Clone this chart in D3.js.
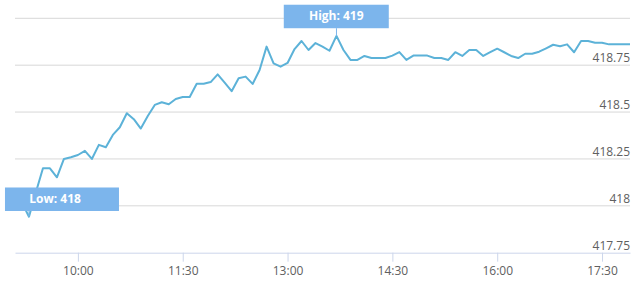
<!DOCTYPE html>
<html>
<head>
<meta charset="utf-8">
<script src="https://cdn.jsdelivr.net/npm/d3@7"></script>
<style>
  body { margin: 0; background: #fff; }
  svg { display: block; font-family: "Open Sans", sans-serif; }
</style>
</head>
<body>
<svg width="640" height="283"></svg>
<script>
// price every 6 minutes, starting 09:06
var startTime = "09:06";
var stepMinutes = 6;
var prices = [
  418.031, 418.017, 417.942, 418.074, 418.200, 418.200, 418.152, 418.250, 418.259, 418.271,
  418.293, 418.250, 418.325, 418.312, 418.378, 418.419, 418.494, 418.462, 418.412, 418.479,
  418.538, 418.552, 418.542, 418.570, 418.580, 418.580, 418.651, 418.651, 418.660, 418.701,
  418.657, 418.611, 418.680, 418.689, 418.650, 418.724, 418.849, 418.760, 418.742, 418.762,
  418.836, 418.879, 418.831, 418.868, 418.849, 418.827, 418.906, 418.831, 418.778, 418.778,
  418.799, 418.788, 418.788, 418.788, 418.801, 418.820, 418.778, 418.801, 418.801, 418.801,
  418.788, 418.788, 418.778, 418.819, 418.799, 418.831, 418.831, 418.799, 418.819, 418.838,
  418.819, 418.799, 418.788, 418.811, 418.811, 418.822, 418.840, 418.859, 418.851, 418.861,
  418.819, 418.879, 418.879, 418.870, 418.870, 418.861, 418.861, 418.861, 418.861
];
var xTickLabels = ["10:00", "11:30", "13:00", "14:30", "16:00", "17:30"];
var yTicks = [417.75, 418, 418.25, 418.5, 418.75, 419];
var yLabelTicks = [417.75, 418, 418.25, 418.5, 418.75];

var parseTime = d3.timeParse("%H:%M");
var t0 = parseTime(startTime);
var data = prices.map(function(v, i) {
  return { time: d3.timeMinute.offset(t0, i * stepMinutes), value: v };
});

var svg = d3.select("svg");
var plotLeft = 15, plotRight = 630, plotTop = 18.3, plotBottom = 252.7;

var x = d3.scaleTime()
  .domain(d3.extent(data, function(d) { return d.time; }))
  .range([plotLeft, plotRight]);
var y = d3.scaleLinear().domain([417.75, 419]).range([plotBottom, plotTop]);

// grid lines
svg.append("g").selectAll("line")
  .data(yTicks.filter(function(t) { return t !== 417.75; }))
  .enter().append("line")
  .attr("x1", plotLeft).attr("x2", plotRight)
  .attr("y1", function(d) { return y(d); })
  .attr("y2", function(d) { return y(d); })
  .attr("stroke", "#d8d8d8")
  .attr("stroke-width", 1);

// y labels, right aligned above the lines
svg.append("g").selectAll("text")
  .data(yLabelTicks)
  .enter().append("text")
  .attr("x", plotRight)
  .attr("y", function(d) { return y(d) - 3; })
  .attr("text-anchor", "end")
  .attr("fill", "#606060")
  .style("font-size", "12px")
  .text(function(d) { return d; });

// x axis
var xAxis = svg.append("g")
  .attr("transform", "translate(0," + plotBottom + ")")
  .call(d3.axisBottom(x)
    .tickValues(xTickLabels.map(parseTime))
    .tickFormat(d3.timeFormat("%H:%M"))
    .tickSizeInner(9)
    .tickSizeOuter(0)
    .tickPadding(5));
xAxis.select(".domain").attr("stroke", "#ccd6eb");
xAxis.selectAll(".tick line").attr("stroke", "#ccd6eb");
xAxis.selectAll(".tick text")
  .attr("fill", "#606060")
  .style("font-size", "12px")
  .style("font-family", "Open Sans, sans-serif");

// price line
var line = d3.line()
  .x(function(d) { return x(d.time); })
  .y(function(d) { return y(d.value); });
svg.append("path")
  .datum(data)
  .attr("fill", "none")
  .attr("stroke", "#5cb2d8")
  .attr("stroke-width", 2)
  .attr("stroke-linejoin", "round")
  .attr("d", line);

// high / low callouts
var hi = data.reduce(function(a, b) { return b.value > a.value ? b : a; });
var lo = data.reduce(function(a, b) { return b.value < a.value ? b : a; });
var callouts = [
  { d: hi, label: "High: " + Math.round(hi.value), dx: -52.7, w: 105, gap: 7.7, textDx: 52.5, anchor: "middle" },
  { d: lo, label: "Low: " + Math.round(lo.value), dx: -24, w: 114, gap: 5.7, textDx: 24.3, anchor: "start" }
];
callouts.forEach(function(c) {
  var px = x(c.d.time), py = y(c.d.value);
  var g = svg.append("g");
  var boxBottom = py - c.gap, boxTop = boxBottom - 23.5;
  g.append("line")
    .attr("x1", px).attr("x2", px)
    .attr("y1", boxBottom).attr("y2", py)
    .attr("stroke", "#7cb5ec").attr("stroke-width", 1);
  g.append("rect")
    .attr("x", px + c.dx).attr("y", boxTop)
    .attr("width", c.w).attr("height", 23.5)
    .attr("fill", "#7cb5ec");
  g.append("text")
    .attr("x", px + c.dx + c.textDx)
    .attr("y", boxTop + 15.5)
    .attr("text-anchor", c.anchor)
    .attr("fill", "#fff")
    .style("font-size", "12px")
    .style("font-weight", "bold")
    .text(c.label);
});
</script>
</body>
</html>
